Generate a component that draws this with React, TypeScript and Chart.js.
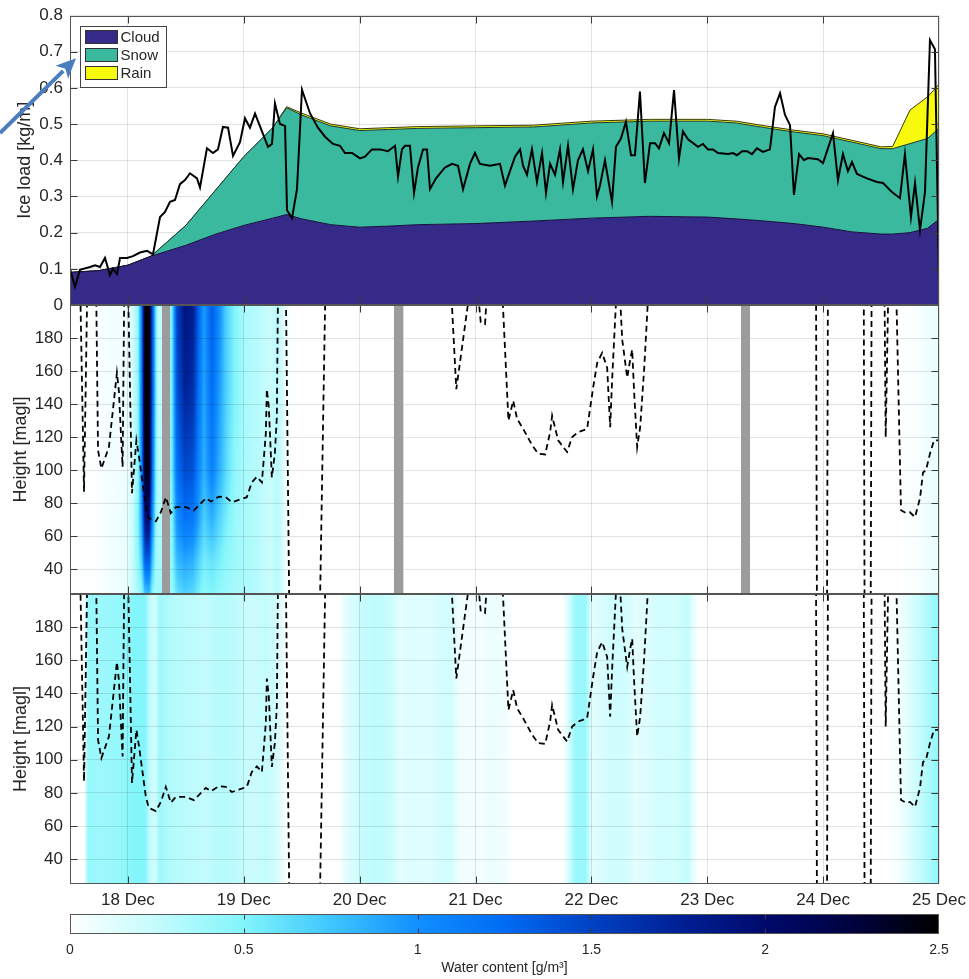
import React, { useEffect, useRef } from 'react';
import { Chart, registerables } from 'chart.js';
Chart.register(...registerables);

const W = 969;
const H = 979;
const FONT = "'Liberation Sans', Arial, Helvetica, sans-serif";
const TXT = '#262626';
const GRID = 'rgba(0,0,0,0.11)';
const AXIS = '#3a3a3a';

// ---------- axes ----------
const dayTicks = [18, 19, 20, 21, 22, 23, 24, 25];
const iceTicks = [0, 0.1, 0.2, 0.3, 0.4, 0.5, 0.6, 0.7, 0.8];
const heightTicks = [40, 60, 80, 100, 120, 140, 160, 180];
const cbTicks = [0, 0.5, 1, 1.5, 2, 2.5];

// ---------- modelled ice load (stacked components, kg/m) ----------
const modelTimes = [17.5, 17.75, 18.0, 18.2, 18.5, 18.75, 19.0, 19.25, 19.37, 19.5, 19.75, 20.0, 20.25, 20.5, 21.0, 21.5, 22.0, 22.5, 23.0, 23.25, 23.5, 23.75, 24.0, 24.25, 24.5, 24.6, 24.75, 24.9, 25.0];
const cloudLoad = [0.09, 0.095, 0.11, 0.135, 0.165, 0.195, 0.22, 0.24, 0.25, 0.238, 0.222, 0.215, 0.218, 0.222, 0.225, 0.232, 0.24, 0.245, 0.243, 0.238, 0.232, 0.225, 0.215, 0.202, 0.196, 0.196, 0.2, 0.212, 0.237];
const snowLoad = [0, 0, 0, 0, 0.055, 0.12, 0.19, 0.25, 0.295, 0.287, 0.273, 0.267, 0.267, 0.266, 0.265, 0.26, 0.263, 0.263, 0.265, 0.265, 0.258, 0.253, 0.253, 0.248, 0.236, 0.236, 0.246, 0.248, 0.251];
const rainLoad = [0, 0, 0, 0, 0, 0, 0, 0, 0.003, 0.005, 0.005, 0.005, 0.005, 0.005, 0.005, 0.005, 0.005, 0.005, 0.005, 0.005, 0.005, 0.005, 0.005, 0.005, 0.005, 0.006, 0.093, 0.115, 0.122];

// ---------- measured ice load ----------
const obsTimes = [17.5, 17.543, 17.586, 17.673, 17.716, 17.759, 17.802, 17.845, 17.871, 17.906, 17.932, 17.992, 18.044, 18.104, 18.165, 18.19, 18.216, 18.277, 18.32, 18.363, 18.406, 18.449, 18.492, 18.536, 18.596, 18.622, 18.682, 18.734, 18.777, 18.82, 18.864, 18.907, 18.967, 19.01, 19.053, 19.097, 19.157, 19.209, 19.243, 19.269, 19.312, 19.356, 19.373, 19.416, 19.459, 19.502, 19.571, 19.64, 19.701, 19.77, 19.83, 19.873, 19.934, 20.003, 20.046, 20.106, 20.175, 20.244, 20.305, 20.331, 20.365, 20.391, 20.434, 20.469, 20.503, 20.547, 20.581, 20.607, 20.659, 20.736, 20.797, 20.849, 20.892, 20.952, 20.995, 21.038, 21.125, 21.211, 21.254, 21.297, 21.341, 21.384, 21.41, 21.444, 21.487, 21.53, 21.574, 21.608, 21.643, 21.686, 21.729, 21.755, 21.798, 21.841, 21.884, 21.927, 21.971, 22.014, 22.048, 22.074, 22.117, 22.178, 22.212, 22.255, 22.298, 22.342, 22.376, 22.419, 22.462, 22.506, 22.549, 22.583, 22.626, 22.67, 22.713, 22.756, 22.79, 22.834, 22.92, 22.963, 23.006, 23.049, 23.093, 23.179, 23.222, 23.256, 23.3, 23.343, 23.386, 23.429, 23.481, 23.541, 23.584, 23.628, 23.671, 23.714, 23.748, 23.792, 23.835, 23.869, 23.955, 23.999, 24.085, 24.128, 24.171, 24.214, 24.249, 24.292, 24.378, 24.465, 24.517, 24.594, 24.663, 24.706, 24.758, 24.793, 24.836, 24.879, 24.922, 24.965, 25.0];
const obsLoad = [0.1, 0.05, 0.097, 0.105, 0.11, 0.105, 0.13, 0.083, 0.1, 0.086, 0.13, 0.13, 0.135, 0.145, 0.15, 0.145, 0.14, 0.243, 0.257, 0.285, 0.29, 0.334, 0.345, 0.364, 0.35, 0.325, 0.433, 0.42, 0.43, 0.492, 0.49, 0.412, 0.45, 0.516, 0.49, 0.529, 0.48, 0.437, 0.445, 0.557, 0.5, 0.495, 0.262, 0.24, 0.32, 0.595, 0.53, 0.49, 0.465, 0.445, 0.44, 0.42, 0.42, 0.405, 0.41, 0.43, 0.43, 0.425, 0.44, 0.355, 0.43, 0.44, 0.44, 0.31, 0.38, 0.43, 0.43, 0.32, 0.35, 0.38, 0.39, 0.385, 0.32, 0.39, 0.42, 0.39, 0.385, 0.39, 0.33, 0.37, 0.41, 0.43, 0.385, 0.36, 0.43, 0.34, 0.42, 0.31, 0.39, 0.36, 0.43, 0.34, 0.44, 0.32, 0.4, 0.43, 0.37, 0.43, 0.3, 0.33, 0.4, 0.285, 0.437, 0.46, 0.506, 0.414, 0.414, 0.59, 0.337, 0.447, 0.447, 0.433, 0.475, 0.447, 0.594, 0.405, 0.48, 0.458, 0.437, 0.445, 0.43, 0.43, 0.42, 0.417, 0.42, 0.414, 0.425, 0.425, 0.417, 0.433, 0.423, 0.43, 0.547, 0.585, 0.525, 0.497, 0.304, 0.417, 0.4, 0.406, 0.403, 0.392, 0.475, 0.345, 0.417, 0.37, 0.395, 0.362, 0.35, 0.34, 0.337, 0.312, 0.295, 0.417, 0.243, 0.337, 0.207, 0.312, 0.732, 0.707, 0.07];

// ---------- cloud base height (m), values above 200 / below 25 are off-axis ----------
const baseTimes = [17.5, 17.583, 17.621, 17.648, 17.725, 17.742, 17.771, 17.836, 17.879, 17.905, 17.922, 17.941, 17.954, 17.971, 17.992, 18.0, 18.035, 18.073, 18.096, 18.155, 18.18, 18.241, 18.284, 18.327, 18.37, 18.413, 18.5, 18.569, 18.612, 18.672, 18.716, 18.785, 18.845, 18.897, 18.957, 19.026, 19.069, 19.113, 19.156, 19.19, 19.199, 19.216, 19.242, 19.268, 19.285, 19.298, 19.36, 19.395, 19.653, 19.709, 20.785, 20.834, 20.953, 21.011, 21.045, 21.082, 21.106, 21.226, 21.284, 21.325, 21.359, 21.411, 21.489, 21.541, 21.601, 21.644, 21.661, 21.713, 21.79, 21.834, 21.885, 21.963, 22.015, 22.05, 22.093, 22.136, 22.162, 22.179, 22.222, 22.24, 22.266, 22.309, 22.335, 22.352, 22.369, 22.395, 22.421, 22.456, 22.482, 22.495, 23.938, 23.947, 24.033, 24.042, 24.35, 24.358, 24.41, 24.419, 24.529, 24.54, 24.564, 24.629, 24.672, 24.715, 24.749, 24.793, 24.836, 24.862, 24.888, 24.922, 24.957, 24.983, 25.0];
const baseHeight = [230, 230, 87, 205, 215, 112, 101, 114, 142, 159, 148, 120, 102, 230, 230, 215, 86, 118, 108, 77.5, 71, 69, 74.5, 83.6, 74, 77.6, 77.6, 75.6, 78.7, 83, 81, 84, 83.6, 80.5, 82, 83.6, 92.6, 96, 92.6, 122, 149, 138, 95.6, 110, 132, 230, 230, 0, 0, 230, 215, 149, 210, 215, 189.5, 188.5, 215, 215, 130, 142, 131, 125, 115, 110, 109.5, 123, 133, 118, 111, 120, 123, 125, 150, 165, 171, 162, 126, 155, 215, 215, 179, 156, 167, 173, 147, 114, 126, 162, 195, 215, 230, 0, 0, 230, 230, 0, 0, 230, 215, 120, 215, 215, 75.7, 74, 74.5, 71.5, 83, 98.6, 100, 110, 118, 118, 118];

// ---------- liquid water content, upper panel (g/m3) ----------
const lwcHeights = [200, 150, 100, 70, 45, 25];
const lwcMidTimes = [17.5, 17.759, 17.845, 17.975, 18.035, 18.087, 18.121, 18.147, 18.182, 18.208, 18.242, 18.268, 18.38, 18.423, 18.492, 18.562, 18.605, 18.656, 18.726, 18.777, 18.846, 18.924, 19.01, 19.123, 19.226, 19.295, 19.356, 19.416, 24.663, 24.836, 25.0];
const lwcMid = [
  [0, 0, 0, 0, 0, 0],
  [0.02, 0.02, 0.02, 0.02, 0.02, 0.02],
  [0.05, 0.05, 0.05, 0.05, 0.05, 0.05],
  [0.06, 0.06, 0.06, 0.08, 0.08, 0.08],
  [0.15, 0.15, 0.15, 0.2, 0.2, 0.2],
  [0.45, 0.45, 0.45, 0.5, 0.45, 0.35],
  [1.2, 1.2, 1.1, 0.95, 0.7, 0.45],
  [2.5, 2.5, 2.4, 1.9, 1.3, 0.75],
  [2.5, 2.5, 2.45, 2.0, 1.35, 0.8],
  [1.5, 1.45, 1.3, 1.1, 0.8, 0.5],
  [0.55, 0.55, 0.5, 0.45, 0.4, 0.35],
  [0.2, 0.2, 0.25, 0.3, 0.35, 0.4],
  [0.55, 0.55, 0.55, 0.5, 0.45, 0.4],
  [1.5, 1.4, 1.2, 1.0, 0.8, 0.6],
  [1.9, 1.75, 1.45, 1.2, 0.9, 0.7],
  [1.8, 1.65, 1.4, 1.15, 0.85, 0.65],
  [1.35, 1.25, 1.1, 0.95, 0.7, 0.55],
  [0.95, 0.9, 0.85, 0.7, 0.55, 0.45],
  [1.35, 1.25, 1.1, 0.85, 0.6, 0.5],
  [1.1, 1.0, 0.9, 0.7, 0.55, 0.45],
  [0.7, 0.7, 0.65, 0.55, 0.45, 0.4],
  [0.5, 0.5, 0.45, 0.4, 0.4, 0.35],
  [0.35, 0.35, 0.35, 0.35, 0.35, 0.35],
  [0.3, 0.3, 0.3, 0.3, 0.3, 0.3],
  [0.22, 0.22, 0.22, 0.22, 0.22, 0.22],
  [0.3, 0.3, 0.3, 0.3, 0.3, 0.3],
  [0.08, 0.08, 0.08, 0.08, 0.08, 0.08],
  [0, 0, 0, 0, 0, 0],
  [0, 0, 0, 0, 0, 0],
  [0.04, 0.04, 0.04, 0.04, 0.04, 0.04],
  [0.1, 0.1, 0.1, 0.1, 0.1, 0.1],
];
// missing data (grey bars) in the upper panel
const gapStarts = [18.294, 20.296, 23.291];
const gapEnds = [18.363, 20.377, 23.369];

// ---------- liquid water content, lower panel (g/m3) ----------
const lwcLowTimes = [17.5, 17.621, 17.655, 17.759, 17.888, 17.975, 18.061, 18.147, 18.19, 18.234, 18.277, 18.32, 18.406, 18.536, 18.665, 18.795, 18.924, 19.053, 19.183, 19.269, 19.33, 19.364, 19.83, 19.873, 19.96, 20.046, 20.175, 20.279, 20.348, 20.477, 20.607, 20.736, 20.797, 20.866, 21.038, 21.125, 21.254, 21.315, 21.746, 21.798, 21.858, 21.945, 22.005, 22.074, 22.16, 22.29, 22.376, 22.506, 22.592, 22.721, 22.834, 22.877, 22.937, 24.56, 24.663, 24.75, 24.879, 25.0];
const lwcLow = [0, 0, 0.42, 0.4, 0.42, 0.45, 0.5, 0.5, 0.25, 0.2, 0.4, 0.35, 0.3, 0.28, 0.25, 0.3, 0.28, 0.22, 0.25, 0.2, 0.1, 0, 0, 0.12, 0.18, 0.25, 0.27, 0.22, 0.12, 0.15, 0.13, 0.2, 0.18, 0.06, 0.05, 0.08, 0.06, 0, 0, 0.15, 0.4, 0.42, 0.12, 0.15, 0.2, 0.2, 0.12, 0.15, 0.2, 0.18, 0.25, 0.1, 0, 0, 0.05, 0.15, 0.3, 0.45];

// ---------- colour map ----------
const cmapValues = [0, 0.25, 0.5, 0.75, 1.0, 1.25, 1.5, 1.75, 2.0, 2.25, 2.5];
const cmapColors = ['#ffffff', '#c4fcfd', '#82f6fb', '#40c6ff', '#1290ff', '#006cf4', '#0042c4', '#002196', '#000a6c', '#000340', '#000000'];

// ---------- annotation arrow (data coords) ----------
const arrowFrom = { x: 16.896, y: 0.475 };
const arrowTo = { x: 17.552, y: 0.682 };

const CLOUD = '#352a87';
const SNOW = '#3ab99f';
const RAIN = '#f8fa0d';

function hexToRgb(h: string) {
  return [parseInt(h.slice(1, 3), 16), parseInt(h.slice(3, 5), 16), parseInt(h.slice(5, 7), 16)];
}
const cmapRgb = cmapColors.map(hexToRgb);
function colorFor(v: number) {
  const vmax = cmapValues[cmapValues.length - 1];
  if (v <= 0) return cmapRgb[0];
  if (v >= vmax) return cmapRgb[cmapRgb.length - 1];
  let k = 0;
  while (k < cmapValues.length - 2 && cmapValues[k + 1] < v) k++;
  const t = (v - cmapValues[k]) / (cmapValues[k + 1] - cmapValues[k]);
  const a = cmapRgb[k], b = cmapRgb[k + 1];
  return [a[0] + (b[0] - a[0]) * t, a[1] + (b[1] - a[1]) * t, a[2] + (b[2] - a[2]) * t];
}
const clamp = (v: number, a: number, b: number) => Math.max(a, Math.min(b, v));

function makeHeatPlugin(id: string, times: number[], heights: number[] | null, values: any[]) {
  return {
    id,
    beforeDraw(chart: any) {
      const { ctx, chartArea, scales } = chart;
      const x = scales.x, y = scales.y;
      const left = Math.round(chartArea.left), top = Math.round(chartArea.top);
      const w = Math.round(chartArea.right) - left, h = Math.round(chartArea.bottom) - top;
      const off = document.createElement('canvas');
      off.width = w; off.height = h;
      const octx = off.getContext('2d')!;
      const img = octx.createImageData(w, h);
      for (let i = 0; i < w; i++) {
        const d = x.getValueForPixel(left + i + 0.5);
        let k = 0;
        while (k < times.length - 2 && times[k + 1] < d) k++;
        const t = clamp((d - times[k]) / (times[k + 1] - times[k]), 0, 1);
        const a = values[k], b = values[k + 1];
        for (let j = 0; j < h; j++) {
          let v: number;
          if (!heights) {
            v = a + (b - a) * t;
          } else {
            const hv = y.getValueForPixel(top + j + 0.5);
            let m = 0;
            while (m < heights.length - 2 && heights[m + 1] > hv) m++;
            const s = clamp((heights[m] - hv) / (heights[m] - heights[m + 1]), 0, 1);
            const va = a[m] + (a[m + 1] - a[m]) * s;
            const vb = b[m] + (b[m + 1] - b[m]) * s;
            v = va + (vb - va) * t;
          }
          const c = colorFor(v);
          const p = (j * w + i) * 4;
          img.data[p] = c[0]; img.data[p + 1] = c[1]; img.data[p + 2] = c[2]; img.data[p + 3] = 255;
        }
      }
      octx.putImageData(img, 0, 0);
      ctx.drawImage(off, left, top);
    },
  };
}

const gapPlugin = {
  id: 'gaps',
  beforeDatasetsDraw(chart: any) {
    const { ctx, chartArea, scales } = chart;
    ctx.save();
    ctx.fillStyle = '#9c9c9c';
    for (let i = 0; i < gapStarts.length; i++) {
      const a = scales.x.getPixelForValue(gapStarts[i]);
      const b = scales.x.getPixelForValue(gapEnds[i]);
      ctx.fillRect(a, chartArea.top, b - a, chartArea.bottom - chartArea.top);
    }
    ctx.restore();
  },
};

function makeFramePlugin(xt: number[], yt: number[] | null, len: number) {
  return {
    id: 'frame',
    afterDraw(chart: any) {
      const { ctx, chartArea, scales } = chart;
      const l = Math.round(chartArea.left) + 0.5, r = Math.round(chartArea.right) - 0.5;
      const t = Math.round(chartArea.top) + 0.5, b = Math.round(chartArea.bottom) - 0.5;
      ctx.save();
      ctx.strokeStyle = AXIS;
      ctx.lineWidth = 1;
      ctx.beginPath();
      xt.forEach((v) => {
        const px = Math.round(scales.x.getPixelForValue(v)) + 0.5;
        if (px <= l + 1 || px >= r - 1) return;
        ctx.moveTo(px, b); ctx.lineTo(px, b - len);
        ctx.moveTo(px, t); ctx.lineTo(px, t + len);
      });
      if (yt) {
        yt.forEach((v) => {
          const py = Math.round(scales.y.getPixelForValue(v)) + 0.5;
          if (py <= t + 1 || py >= b - 1) return;
          ctx.moveTo(l, py); ctx.lineTo(l + len, py);
          ctx.moveTo(r, py); ctx.lineTo(r - len, py);
        });
      }
      ctx.stroke();
      ctx.strokeStyle = '#555';
      ctx.strokeRect(l, t, r - l, b - t);
      ctx.restore();
    },
  };
}

const legendPlugin = {
  id: 'insideLegend',
  afterDraw(chart: any) {
    const { ctx, chartArea } = chart;
    const items = chart.data.datasets.filter((d: any) => d.showInLegend);
    const x0 = Math.round(chartArea.left) + 10.5;
    const y0 = Math.round(chartArea.top) + 10.5;
    const rowH = 18;
    const bw = 86, bh = 8 + rowH * items.length - 1;
    ctx.save();
    ctx.fillStyle = '#ffffff';
    ctx.fillRect(x0, y0, bw, bh);
    ctx.strokeStyle = '#444';
    ctx.lineWidth = 1;
    ctx.strokeRect(x0, y0, bw, bh);
    ctx.font = `15px ${FONT}`;
    ctx.textBaseline = 'middle';
    items.forEach((d: any, i: number) => {
      const yy = y0 + 4 + i * rowH;
      ctx.fillStyle = d.backgroundColor;
      ctx.fillRect(x0 + 5, yy, 32, 13);
      ctx.strokeStyle = '#333';
      ctx.strokeRect(x0 + 5, yy, 32, 13);
      ctx.fillStyle = TXT;
      ctx.fillText(d.label, x0 + 40, yy + 7);
    });
    ctx.restore();
  },
};

const arrowPlugin = {
  id: 'arrow',
  afterDraw(chart: any) {
    const { ctx, scales } = chart;
    const x1 = scales.x.getPixelForValue(arrowFrom.x), y1 = scales.y.getPixelForValue(arrowFrom.y);
    const x2 = scales.x.getPixelForValue(arrowTo.x), y2 = scales.y.getPixelForValue(arrowTo.y);
    const dx = x2 - x1, dy = y2 - y1;
    const L = Math.hypot(dx, dy);
    const ux = dx / L, uy = dy / L;
    const headL = 20, headW = 9;
    const bx = x2 - ux * headL, by = y2 - uy * headL;
    ctx.save();
    ctx.strokeStyle = '#4a7ebd';
    ctx.fillStyle = '#4a7ebd';
    ctx.lineWidth = 4;
    ctx.beginPath();
    ctx.moveTo(x1, y1);
    ctx.lineTo(bx + ux * 2, by + uy * 2);
    ctx.stroke();
    ctx.beginPath();
    ctx.moveTo(x2, y2);
    ctx.lineTo(bx - uy * headW, by + ux * headW);
    ctx.lineTo(bx + ux * 5, by + uy * 5);
    ctx.lineTo(bx + uy * headW, by - ux * headW);
    ctx.closePath();
    ctx.fill();
    ctx.restore();
  },
};

const colorbarPlugin = {
  id: 'colorbar',
  beforeDraw(chart: any) {
    const { ctx, chartArea, scales } = chart;
    const l = Math.round(chartArea.left), r = Math.round(chartArea.right);
    const t = chartArea.top, b = chartArea.bottom;
    for (let px = l; px < r; px++) {
      const c = colorFor(scales.x.getValueForPixel(px + 0.5));
      ctx.fillStyle = `rgb(${c[0] | 0},${c[1] | 0},${c[2] | 0})`;
      ctx.fillRect(px, t, 1, b - t);
    }
  },
};

const setTicks = (list: number[]) => (s: any) => {
  s.ticks = list.map((v) => ({ value: v }));
};

function xScale(showLabels: boolean, height: number) {
  return {
    type: 'linear',
    min: 17.5,
    max: 25,
    afterBuildTicks: setTicks(dayTicks),
    afterFit: (s: any) => { s.height = height; s.paddingLeft = 0; s.paddingRight = 0; },
    grid: { color: GRID, drawTicks: false, lineWidth: 1 },
    border: { display: false },
    ticks: {
      display: showLabels,
      padding: 6,
      color: TXT,
      font: { family: FONT, size: 17 },
      maxRotation: 0,
      callback: (v: any) => `${v} Dec`,
    },
  };
}

function yScale(min: number, max: number, ticks: number[], title: string, titlePad: number, extra: any = {}) {
  return {
    type: 'linear',
    min,
    max,
    afterBuildTicks: setTicks(ticks),
    afterFit: (s: any) => { s.width = 70; s.paddingTop = 0; s.paddingBottom = 0; },
    grid: { color: GRID, drawTicks: false, lineWidth: 1 },
    border: { display: false },
    ticks: {
      padding: 7,
      color: TXT,
      font: { family: FONT, size: 17 },
      callback: (v: any) => String(+Number(v).toFixed(2)),
    },
    title: { display: true, text: title, color: TXT, font: { family: FONT, size: 18 }, padding: { top: titlePad, bottom: 0 } },
    ...extra,
  };
}

const baseOpts = (padding: any) => ({
  responsive: false,
  animation: false,
  events: [],
  layout: { padding },
  plugins: { legend: { display: false }, tooltip: { enabled: false } },
});

const baseLine = () => ({
  label: 'Cloud base',
  data: baseTimes.map((t, i) => ({ x: t, y: baseHeight[i] })),
  borderColor: '#000000',
  borderWidth: 1.8,
  borderDash: [6, 4],
  pointRadius: 0,
  fill: false,
  tension: 0,
  clip: 0,
});

export default function App() {
  const r1 = useRef<HTMLCanvasElement>(null);
  const r2 = useRef<HTMLCanvasElement>(null);
  const r3 = useRef<HTMLCanvasElement>(null);
  const r4 = useRef<HTMLCanvasElement>(null);

  useEffect(() => {
    const charts: Chart[] = [];

    charts.push(new Chart(r1.current!, {
      type: 'line',
      data: {
        datasets: [
          { label: 'Measured', data: obsTimes.map((t, i) => ({ x: t, y: obsLoad[i] })), borderColor: '#000', borderWidth: 2, pointRadius: 0, fill: false, stack: 'obs', order: 0, tension: 0 },
          { label: 'Cloud', showInLegend: true, data: modelTimes.map((t, i) => ({ x: t, y: cloudLoad[i] })), backgroundColor: CLOUD, borderColor: '#15123a', borderWidth: 1, pointRadius: 0, fill: 'origin', stack: 'model', order: 1 },
          { label: 'Snow', showInLegend: true, data: modelTimes.map((t, i) => ({ x: t, y: snowLoad[i] })), backgroundColor: SNOW, borderColor: '#1d3a30', borderWidth: 1, pointRadius: 0, fill: '-1', stack: 'model', order: 2 },
          { label: 'Rain', showInLegend: true, data: modelTimes.map((t, i) => ({ x: t, y: rainLoad[i] })), backgroundColor: RAIN, borderColor: '#3a3a10', borderWidth: 1, pointRadius: 0, fill: '-1', stack: 'model', order: 3 },
        ] as any,
      },
      options: {
        ...baseOpts({ left: 0, right: W - 939, top: 15.5, bottom: H - 305 }),
        scales: {
          x: xScale(false, 0),
          y: yScale(0, 0.8, iceTicks, 'Ice load [kg/m]', 14, { stacked: true }),
        },
      } as any,
      plugins: [makeFramePlugin(dayTicks, iceTicks, 7), legendPlugin, arrowPlugin],
    }));

    charts.push(new Chart(r2.current!, {
      type: 'line',
      data: { datasets: [baseLine()] as any },
      options: {
        ...baseOpts({ left: 0, right: W - 939, top: 305, bottom: H - 594 }),
        scales: {
          x: xScale(false, 0),
          y: yScale(25, 200, heightTicks, 'Height [magl]', 10),
        },
      } as any,
      plugins: [makeHeatPlugin('heatMid', lwcMidTimes, lwcHeights, lwcMid), gapPlugin, makeFramePlugin(dayTicks, heightTicks, 7)],
    }));

    charts.push(new Chart(r3.current!, {
      type: 'line',
      data: { datasets: [baseLine()] as any },
      options: {
        ...baseOpts({ left: 0, right: W - 939, top: 594, bottom: H - 884 - 35 }),
        scales: {
          x: xScale(true, 35),
          y: yScale(25, 200, heightTicks, 'Height [magl]', 10),
        },
      } as any,
      plugins: [makeHeatPlugin('heatLow', lwcLowTimes, null, lwcLow), makeFramePlugin(dayTicks, heightTicks, 7)],
    }));

    charts.push(new Chart(r4.current!, {
      type: 'line',
      data: { datasets: [] },
      options: {
        ...baseOpts({ left: 70, right: W - 939, top: 914, bottom: 2 }),
        scales: {
          x: {
            type: 'linear',
            min: 0,
            max: 2.5,
            afterBuildTicks: setTicks(cbTicks),
            afterFit: (s: any) => { s.height = H - 2 - 934; s.paddingLeft = 0; s.paddingRight = 0; },
            grid: { display: false },
            border: { display: false },
            ticks: { padding: 0, color: TXT, font: { family: FONT, size: 14 }, callback: (v: any) => String(v), maxRotation: 0 },
            title: { display: true, text: 'Water content [g/m³]', color: TXT, font: { family: FONT, size: 14 }, padding: { top: 0, bottom: 0 } },
          },
          y: { display: false, min: 0, max: 1 },
        },
      } as any,
      plugins: [colorbarPlugin, makeFramePlugin([0.5, 1, 1.5, 2], null, 5)],
    }));

    return () => { charts.forEach((c) => c.destroy()); };
  }, []);

  const cs: React.CSSProperties = { position: 'absolute', left: 0, top: 0, width: W, height: H };
  return (
    <div style={{ position: 'absolute', left: 0, top: 0, width: W, height: H, background: '#fff', overflow: 'hidden' }}>
      <canvas ref={r1} width={W} height={H} style={cs} />
      <canvas ref={r2} width={W} height={H} style={cs} />
      <canvas ref={r3} width={W} height={H} style={cs} />
      <canvas ref={r4} width={W} height={H} style={cs} />
    </div>
  );
}
